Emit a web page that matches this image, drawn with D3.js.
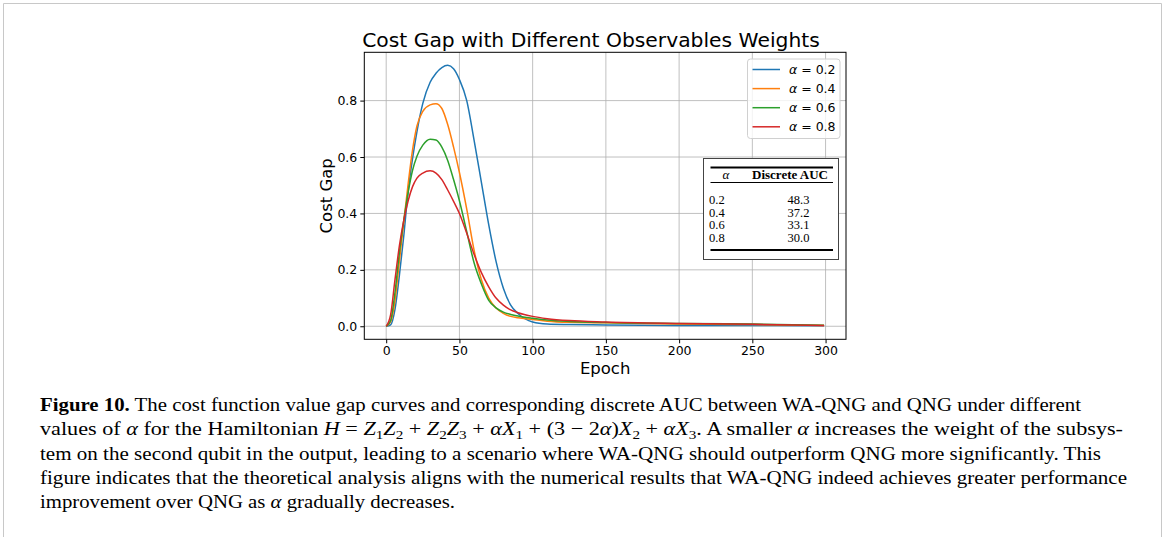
<!DOCTYPE html>
<html>
<head>
<meta charset="utf-8">
<script src="https://cdn.jsdelivr.net/npm/d3@7"></script>
<style>
  body { margin: 0; background: #fff; }
  svg text { font-family: "DejaVu Sans", sans-serif; }
</style>
</head>
<body>
<div id="chart"></div>
<script>
const epochs = [0, 3, 6, 9, 12, 15, 18, 21, 25, 30, 34, 38, 42, 46, 50, 55, 60, 65, 70, 75, 80, 85, 90, 100, 110, 125, 150, 200, 250, 299];
const gapA02 = [0, 0.005, 0.06, 0.18, 0.32, 0.48, 0.595, 0.69, 0.79, 0.865, 0.897, 0.917, 0.925, 0.913, 0.875, 0.8, 0.66, 0.51, 0.36, 0.23, 0.135, 0.075, 0.045, 0.015, 0.008, 0.006, 0.0045, 0.003, 0.003, 0.002];
const gapA04 = [0, 0.015, 0.09, 0.23, 0.37, 0.505, 0.625, 0.71, 0.762, 0.785, 0.789, 0.772, 0.715, 0.635, 0.545, 0.415, 0.27, 0.165, 0.1, 0.065, 0.046, 0.035, 0.03, 0.024, 0.018, 0.014, 0.012, 0.008, 0.006, 0.003];
const gapA06 = [0, 0.02, 0.12, 0.26, 0.375, 0.475, 0.553, 0.603, 0.642, 0.663, 0.66, 0.635, 0.588, 0.52, 0.445, 0.335, 0.225, 0.15, 0.092, 0.065, 0.05, 0.042, 0.036, 0.028, 0.022, 0.017, 0.013, 0.01, 0.008, 0.004];
const gapA08 = [0, 0.04, 0.165, 0.285, 0.375, 0.445, 0.495, 0.525, 0.543, 0.551, 0.543, 0.52, 0.483, 0.443, 0.4, 0.33, 0.255, 0.19, 0.14, 0.1, 0.075, 0.058, 0.048, 0.035, 0.027, 0.02, 0.015, 0.01, 0.007, 0.003];

const alphas = ["0.2", "0.4", "0.6", "0.8"];
const colors = ["#1f77b4", "#ff7f0e", "#2ca02c", "#d62728"];
const aucValues = ["48.3", "37.2", "33.1", "30.0"];

const xTicks = [0, 50, 100, 150, 200, 250, 300];
const yTicks = [0, 0.2, 0.4, 0.6, 0.8];

const series = [gapA02, gapA04, gapA06, gapA08].map((vals, i) => ({
  alpha: alphas[i],
  color: colors[i],
  points: epochs.map((e, j) => ({ epoch: e, gap: vals[j] })),
}));

const W = 1165, H = 537;
const plot = { left: 364.3, right: 846, top: 52.3, bottom: 339.3 };

const svg = d3.select("#chart").append("svg")
  .attr("width", W).attr("height", H)
  .style("display", "block");

svg.append("rect").attr("width", W).attr("height", H).attr("fill", "#fff");

// page frame around the figure
svg.append("path")
  .attr("d", `M3.5,${H} V3.5 H1161.5 V${H}`)
  .attr("fill", "none").attr("stroke", "#c8c8c8").attr("stroke-width", 1);

// scales with matplotlib's 5% margins
const xExt = d3.extent(epochs);
const xPad = (xExt[1] - xExt[0]) * 0.05;
const xScale = d3.scaleLinear()
  .domain([xExt[0] - xPad, xExt[1] + xPad])
  .range([plot.left, plot.right]);

const yMax = d3.max(series, (s) => d3.max(s.points, (p) => p.gap));
const yPad = yMax * 0.05;
const yScale = d3.scaleLinear()
  .domain([-yPad, yMax + yPad])
  .range([plot.bottom, plot.top]);

// grid
const grid = svg.append("g").attr("stroke", "#b0b0b0").attr("stroke-width", 0.8);
grid.selectAll("line.gx").data(xTicks).join("line").attr("class", "gx")
  .attr("x1", (d) => xScale(d)).attr("x2", (d) => xScale(d))
  .attr("y1", plot.top).attr("y2", plot.bottom);
grid.selectAll("line.gy").data(yTicks).join("line").attr("class", "gy")
  .attr("y1", (d) => yScale(d)).attr("y2", (d) => yScale(d))
  .attr("x1", plot.left).attr("x2", plot.right);

// curves
const line = d3.line()
  .x((d) => xScale(d.epoch))
  .y((d) => yScale(d.gap))
  .curve(d3.curveMonotoneX);

svg.append("g").selectAll("path").data(series).join("path")
  .attr("d", (d) => line(d.points))
  .attr("fill", "none")
  .attr("stroke", (d) => d.color)
  .attr("stroke-width", 1.5);

// frame
svg.append("rect")
  .attr("x", plot.left).attr("y", plot.top)
  .attr("width", plot.right - plot.left).attr("height", plot.bottom - plot.top)
  .attr("fill", "none").attr("stroke", "#000").attr("stroke-width", 1);

// axes
const xAxis = svg.append("g")
  .attr("transform", `translate(0,${plot.bottom})`)
  .call(d3.axisBottom(xScale).tickValues(xTicks).tickSize(4).tickPadding(3));
const yAxis = svg.append("g")
  .attr("transform", `translate(${plot.left},0)`)
  .call(d3.axisLeft(yScale).tickValues(yTicks).tickFormat(d3.format(".1f")).tickSize(4).tickPadding(3));
[xAxis, yAxis].forEach((ax) => {
  ax.select(".domain").remove();
  ax.selectAll("text").style("font-family", "DejaVu Sans").style("font-size", "12.5px").attr("fill", "#000");
  ax.selectAll("line").attr("stroke", "#000");
});

// labels
svg.append("text")
  .attr("x", 591).attr("y", 46.5)
  .attr("text-anchor", "middle")
  .style("font-size", "20.3px")
  .text("Cost Gap with Different Observables Weights");

svg.append("text")
  .attr("x", (plot.left + plot.right) / 2).attr("y", 373.5)
  .attr("text-anchor", "middle")
  .style("font-size", "16.5px")
  .text("Epoch");

svg.append("text")
  .attr("transform", `translate(332,${(plot.top + plot.bottom) / 2}) rotate(-90)`)
  .attr("text-anchor", "middle")
  .style("font-size", "16.5px")
  .text("Cost Gap");

// legend
const lg = svg.append("g");
lg.append("rect")
  .attr("x", 747.5).attr("y", 59).attr("width", 92.5).attr("height", 79.5)
  .attr("rx", 3).attr("fill", "#fff").attr("fill-opacity", 0.8)
  .attr("stroke", "#d0d0d0").attr("stroke-width", 1);
const rows = lg.selectAll("g.row").data(series).join("g").attr("class", "row")
  .attr("transform", (d, i) => `translate(0,${69.5 + i * 19.1})`);
rows.append("line")
  .attr("x1", 752.5).attr("x2", 780)
  .attr("stroke", (d) => d.color).attr("stroke-width", 1.5);
const lt = rows.append("text").attr("x", 789).attr("y", 4.5).style("font-size", "12.5px");
lt.append("tspan").style("font-style", "italic").text("α");
lt.append("tspan").text((d) => " = " + d.alpha);

// AUC table
const serif = "'Liberation Serif', serif";
const tb = svg.append("g");
tb.append("rect")
  .attr("x", 703.5).attr("y", 158.5).attr("width", 135).attr("height", 101)
  .attr("fill", "#fff").attr("stroke", "#444").attr("stroke-width", 1);
tb.append("line").attr("x1", 710.5).attr("x2", 833).attr("y1", 167.5).attr("y2", 167.5)
  .attr("stroke", "#000").attr("stroke-width", 2);
tb.append("line").attr("x1", 710.5).attr("x2", 833).attr("y1", 182.5).attr("y2", 182.5)
  .attr("stroke", "#000").attr("stroke-width", 1);
tb.append("line").attr("x1", 710.5).attr("x2", 833).attr("y1", 250).attr("y2", 250)
  .attr("stroke", "#000").attr("stroke-width", 2);
tb.append("text").attr("x", 726).attr("y", 179).attr("text-anchor", "middle")
  .style("font-family", serif).style("font-style", "italic").style("font-size", "13px").text("α");
tb.append("text").attr("x", 790).attr("y", 179).attr("text-anchor", "middle")
  .style("font-family", serif).style("font-weight", "bold").style("font-size", "13px").text("Discrete AUC");
tb.selectAll("text.a").data(alphas).join("text").attr("class", "a")
  .attr("x", 709).attr("y", (d, i) => 204 + i * 12.6)
  .style("font-family", serif).style("font-size", "12.5px").text((d) => d);
tb.selectAll("text.v").data(aucValues).join("text").attr("class", "v")
  .attr("x", 798.5).attr("y", (d, i) => 204 + i * 12.6).attr("text-anchor", "middle")
  .style("font-family", serif).style("font-size", "12.5px").text((d) => d);

// caption
const caption = [
  [["b", "Figure 10."], ["", " The cost function value gap curves and corresponding discrete AUC between WA-QNG and QNG under different"]],
  [["", "values of "], ["i", "α"], ["", " for the Hamiltonian "], ["i", "H"], ["", " = "], ["i", "Z"], ["s", "1"], ["i", "Z"], ["s", "2"],
   ["", " + "], ["i", "Z"], ["s", "2"], ["i", "Z"], ["s", "3"], ["", " + "], ["i", "αX"], ["s", "1"], ["", " + (3 − 2"], ["i", "α"],
   ["", ")"], ["i", "X"], ["s", "2"], ["", " + "], ["i", "αX"], ["s", "3"], ["", ". A smaller "], ["i", "α"], ["", " increases the weight of the subsys-"]],
  [["", "tem on the second qubit in the output, leading to a scenario where WA-QNG should outperform QNG more significantly. This"]],
  [["", "figure indicates that the theoretical analysis aligns with the numerical results that WA-QNG indeed achieves greater performance"]],
  [["", "improvement over QNG as "], ["i", "α"], ["", " gradually decreases."]],
];
const captionEnds = [1081, 1123, 1101, 1127, 455];

caption.forEach((segs, i) => {
  const t = svg.append("text")
    .attr("x", 40).attr("y", 411 + i * 24.3)
    .attr("textLength", captionEnds[i] - 40)
    .attr("lengthAdjust", "spacingAndGlyphs")
    .style("font-family", serif)
    .style("font-size", "19px");
  let shifted = false;
  segs.forEach(([kind, str]) => {
    const ts = t.append("tspan").text(str);
    if (kind === "b") ts.style("font-weight", "bold");
    if (kind === "i") ts.style("font-style", "italic");
    if (kind === "s") {
      ts.attr("dy", 4).style("font-size", "13px");
      shifted = true;
    } else if (shifted) {
      ts.attr("dy", -4);
      shifted = false;
    }
  });
});
</script>
</body>
</html>
